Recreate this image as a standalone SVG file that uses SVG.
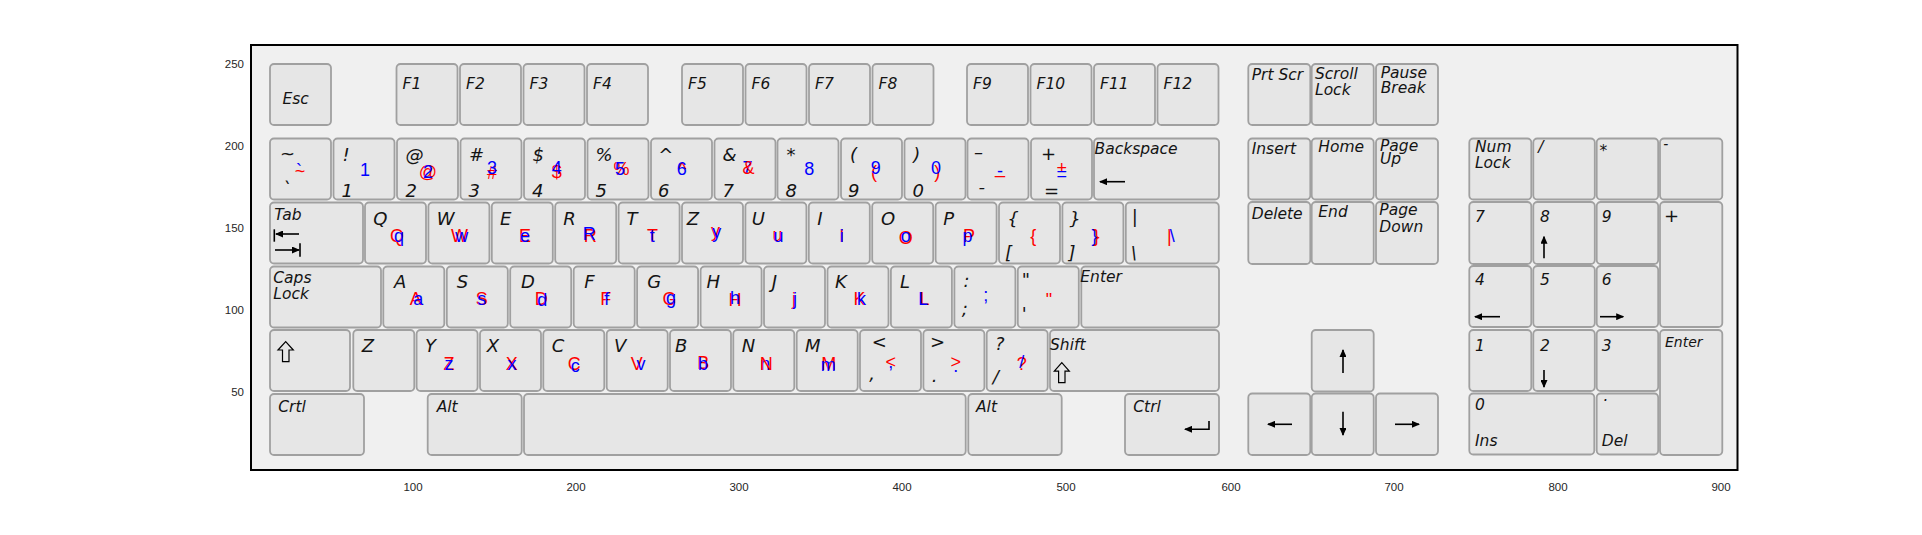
<svg xmlns="http://www.w3.org/2000/svg" width="1922" height="535" viewBox="0 0 1922 535">
<defs>
<style>
.k{fill:#e6e6e6;stroke:#a0a0a0;stroke-width:1.8}
.t{font-family:"DejaVu Sans","Liberation Sans",sans-serif;font-style:italic;fill:#141414;font-size:15.5px}
.L{font-size:18px}
.S{font-size:14px}
.r,.b{font-family:"Liberation Sans",Arial,sans-serif;font-size:18px;text-anchor:middle}
.r{fill:#ff0000}
.b{fill:#0000ff}
.ax{font-family:"Liberation Sans",Arial,sans-serif;font-size:11.5px;fill:#262626}
.ar{stroke:#000;stroke-width:1.6;fill:none;marker-end:url(#ah)}
.ln{stroke:#000;stroke-width:1.6;fill:none}
.hs{fill:none;stroke:#000;stroke-width:1.2}
</style>
<marker id="ah" markerUnits="userSpaceOnUse" viewBox="0 0 8 7" markerWidth="8" markerHeight="7" refX="7" refY="3.5" orient="auto"><path d="M0,0L8,3.5L0,7z" fill="#000"/></marker>
</defs>
<rect width="1922" height="535" fill="#fff"/>
<g id="axes">
<rect x="251" y="45" width="1486.5" height="425" fill="#f0f0f0" stroke="#000" stroke-width="2"/>
<g class="ax" text-anchor="end">
<text x="244" y="67.7">250</text><text x="244" y="150">200</text><text x="244" y="232">150</text><text x="244" y="314">100</text><text x="244" y="396.3">50</text>
</g>
<g class="ax" text-anchor="middle">
<text x="413" y="490.5">100</text><text x="576" y="490.5">200</text><text x="739" y="490.5">300</text><text x="902" y="490.5">400</text><text x="1066" y="490.5">500</text><text x="1231" y="490.5">600</text><text x="1394" y="490.5">700</text><text x="1558" y="490.5">800</text><text x="1721" y="490.5">900</text>
</g>
</g>

<!-- Function row -->
<g id="key-esc" transform="translate(270,64)"><rect class="k" width="61" height="61" rx="4"/><text class="t" x="12.5" y="39.5">Esc</text></g>
<g id="key-f1" transform="translate(396.5,64)"><rect class="k" width="61" height="61" rx="4"/><text class="t" x="6" y="25">F1</text></g>
<g id="key-f2" transform="translate(460,64)"><rect class="k" width="61" height="61" rx="4"/><text class="t" x="6" y="25">F2</text></g>
<g id="key-f3" transform="translate(523.5,64)"><rect class="k" width="61" height="61" rx="4"/><text class="t" x="6" y="25">F3</text></g>
<g id="key-f4" transform="translate(587,64)"><rect class="k" width="61" height="61" rx="4"/><text class="t" x="6" y="25">F4</text></g>
<g id="key-f5" transform="translate(682,64)"><rect class="k" width="61" height="61" rx="4"/><text class="t" x="6" y="25">F5</text></g>
<g id="key-f6" transform="translate(745.5,64)"><rect class="k" width="61" height="61" rx="4"/><text class="t" x="6" y="25">F6</text></g>
<g id="key-f7" transform="translate(809,64)"><rect class="k" width="61" height="61" rx="4"/><text class="t" x="6" y="25">F7</text></g>
<g id="key-f8" transform="translate(872.5,64)"><rect class="k" width="61" height="61" rx="4"/><text class="t" x="6" y="25">F8</text></g>
<g id="key-f9" transform="translate(967,64)"><rect class="k" width="61" height="61" rx="4"/><text class="t" x="6" y="25">F9</text></g>
<g id="key-f10" transform="translate(1030.5,64)"><rect class="k" width="61" height="61" rx="4"/><text class="t" x="6" y="25">F10</text></g>
<g id="key-f11" transform="translate(1094,64)"><rect class="k" width="61" height="61" rx="4"/><text class="t" x="6" y="25">F11</text></g>
<g id="key-f12" transform="translate(1157.5,64)"><rect class="k" width="61" height="61" rx="4"/><text class="t" x="6" y="25">F12</text></g>

<!-- Number row -->
<g id="key-grave" transform="translate(270,138.5)"><rect class="k" width="61" height="61" rx="4"/><text class="t L" x="10" y="21">~</text><text class="t L" x="12" y="56">`</text><text class="r" x="30" y="38.5">~</text><text class="b" x="29" y="38.5">`</text></g>
<g id="key-1" transform="translate(333.5,138.5)"><rect class="k" width="61" height="61" rx="4"/><text class="t L" x="9" y="22">!</text><text class="t L" x="8" y="58">1</text><text class="b" x="31.5" y="37.5">1</text></g>
<g id="key-2" transform="translate(397,138.5)"><rect class="k" width="61" height="61" rx="4"/><text class="t L" x="8.5" y="22">@</text><text class="t L" x="8.5" y="58">2</text><text class="r" x="31" y="39.5">@</text><text class="b" x="31" y="39">2</text></g>
<g id="key-3" transform="translate(460.5,138.5)"><rect class="k" width="61" height="61" rx="4"/><text class="t L" x="8.5" y="22">#</text><text class="t L" x="8" y="58">3</text><text class="r" x="31.5" y="40">#</text><text class="b" x="31.5" y="35">3</text></g>
<g id="key-4" transform="translate(524,138.5)"><rect class="k" width="61" height="61" rx="4"/><text class="t L" x="8.5" y="22">$</text><text class="t L" x="8" y="58">4</text><text class="r" x="32.7" y="39.5">$</text><text class="b" x="32.7" y="35">4</text></g>
<g id="key-5" transform="translate(587.5,138.5)"><rect class="k" width="61" height="61" rx="4"/><text class="t L" x="8" y="22">%</text><text class="t L" x="8" y="58">5</text><text class="r" x="34" y="36.5">%</text><text class="b" x="32.5" y="36">5</text></g>
<g id="key-6" transform="translate(651,138.5)"><rect class="k" width="61" height="61" rx="4"/><text class="t L" x="7.3" y="22">^</text><text class="t L" x="7" y="58">6</text><text class="r" x="31.3" y="36">^</text><text class="b" x="30.7" y="36.5">6</text></g>
<g id="key-7" transform="translate(714.5,138.5)"><rect class="k" width="61" height="61" rx="4"/><text class="t L" x="8" y="22">&amp;</text><text class="t L" x="8" y="58">7</text><text class="b" x="33" y="35">7</text><text class="r" x="34" y="35">&amp;</text></g>
<g id="key-8" transform="translate(777.5,138.5)"><rect class="k" width="61" height="61" rx="4"/><text class="t L" x="9" y="22">*</text><text class="t L" x="8" y="58">8</text><text class="b" x="31.8" y="36.5">8</text></g>
<g id="key-9" transform="translate(841,138.5)"><rect class="k" width="61" height="61" rx="4"/><text class="t L" x="9" y="22">(</text><text class="t L" x="7" y="58">9</text><text class="r" x="33" y="39.5">(</text><text class="b" x="34.7" y="35.5">9</text></g>
<g id="key-0" transform="translate(904.5,138.5)"><rect class="k" width="61" height="61" rx="4"/><text class="t L" x="8.8" y="22">)</text><text class="t L" x="8" y="58">0</text><text class="r" x="32.8" y="39.5">)</text><text class="b" x="31.5" y="35.5">0</text></g>
<g id="key-minus" transform="translate(967.5,138.5)"><rect class="k" width="61" height="61" rx="4"/><text class="t L" x="6.5" y="19">–</text><text class="t L" x="11" y="54">-</text><text class="r" x="32.5" y="34">_</text><text class="b" x="32.5" y="38.5">-</text></g>
<g id="key-equal" transform="translate(1031,138.5)"><rect class="k" width="61" height="61" rx="4"/><text class="t L" x="10" y="21.5">+</text><text class="t L" x="13" y="58">=</text><text class="r" x="30.7" y="35.5">+</text><text class="b" x="30.7" y="41.5">=</text></g>
<g id="key-backspace" transform="translate(1094,138.5)"><rect class="k" width="125" height="61" rx="4"/><text class="t" x="0.5" y="15">Backspace</text><line class="ar" x1="31" y1="43.2" x2="6" y2="43.2"/></g>

<!-- Tab row -->
<g id="key-tab" transform="translate(270,202.5)"><rect class="k" width="93" height="61" rx="4"/><text class="t" x="4.3" y="17.5">Tab</text><line class="ln" x1="4.3" y1="26.8" x2="4.3" y2="39.2"/><line class="ar" x1="29" y1="31.5" x2="6" y2="31.5"/><line class="ar" x1="5" y1="47.5" x2="29" y2="47.5"/><line class="ln" x1="30" y1="40.8" x2="30" y2="54.2"/></g>
<g id="key-q" transform="translate(365,202.5)"><rect class="k" width="61" height="61" rx="4"/><text class="t L" x="8.3" y="22.5">Q</text><text class="r" x="32" y="39">Q</text><text class="b" x="34" y="39">q</text></g>
<g id="key-w" transform="translate(428.4,202.5)"><rect class="k" width="61" height="61" rx="4"/><text class="t L" x="8.3" y="22.5">W</text><text class="r" x="31" y="39">W</text><text class="b" x="33.3" y="39">w</text></g>
<g id="key-e" transform="translate(491.8,202.5)"><rect class="k" width="61" height="61" rx="4"/><text class="t L" x="8.2" y="22.5">E</text><text class="r" x="33.3" y="39">E</text><text class="b" x="33.3" y="39">e</text></g>
<g id="key-r" transform="translate(555.2,202.5)"><rect class="k" width="61" height="61" rx="4"/><text class="t L" x="8.1" y="22.5">R</text><text class="r" x="35" y="39">R</text><text class="b" x="34" y="37">R</text></g>
<g id="key-t" transform="translate(618.6,202.5)"><rect class="k" width="61" height="61" rx="4"/><text class="t L" x="8" y="22.5">T</text><text class="r" x="34" y="39">T</text><text class="b" x="33.7" y="39">t</text></g>
<g id="key-y" transform="translate(682,202.5)"><rect class="k" width="61" height="61" rx="4"/><text class="t L" x="4.7" y="22.5">Z</text><text class="r" x="33.5" y="34">y</text><text class="b" x="34.7" y="35.5">y</text></g>
<g id="key-u" transform="translate(745.4,202.5)"><rect class="k" width="61" height="61" rx="4"/><text class="t L" x="6.3" y="22.5">U</text><text class="r" x="32" y="38.5">u</text><text class="b" x="33" y="39">u</text></g>
<g id="key-i" transform="translate(808.8,202.5)"><rect class="k" width="61" height="61" rx="4"/><text class="t L" x="8.5" y="22.5">I</text><text class="r" x="33" y="39">I</text><text class="b" x="33" y="39">i</text></g>
<g id="key-o" transform="translate(872.2,202.5)"><rect class="k" width="61" height="61" rx="4"/><text class="t L" x="8.8" y="22.5">O</text><text class="r" x="33.5" y="41">O</text><text class="b" x="33.5" y="39">o</text></g>
<g id="key-p" transform="translate(935.6,202.5)"><rect class="k" width="61" height="61" rx="4"/><text class="t L" x="7.7" y="22.5">P</text><text class="r" x="33.5" y="39">P</text><text class="b" x="32" y="39">p</text></g>
<g id="key-lbracket" transform="translate(999,202.5)"><rect class="k" width="61" height="61" rx="4"/><text class="t L" x="8.3" y="22.5">{</text><text class="t L" x="6" y="56">[</text><text class="r" x="34.3" y="39">{</text></g>
<g id="key-rbracket" transform="translate(1062.4,202.5)"><rect class="k" width="61" height="61" rx="4"/><text class="t L" x="7" y="22.5">}</text><text class="t L" x="6" y="56">]</text><text class="b" x="32" y="39">}</text><text class="r" x="34" y="39">}</text></g>
<g id="key-backslash" transform="translate(1125.8,202.5)"><rect class="k" width="93" height="61" rx="4"/><text class="t L" x="6" y="20">|</text><text class="t L" x="5" y="56">\</text><text class="r" x="43.5" y="39">|</text><text class="b" x="46.5" y="39">\</text></g>

<!-- Caps row -->
<g id="key-caps" transform="translate(270,266.5)"><rect class="k" width="111" height="61" rx="4"/><text class="t" x="3.3" y="16.7">Caps</text><text class="t" x="3.3" y="32.7">Lock</text></g>
<g id="key-a" transform="translate(383.3,266.5)"><rect class="k" width="61" height="61" rx="4"/><text class="t L" x="10.7" y="21.2">A</text><text class="r" x="32.4" y="38.5">A</text><text class="b" x="35" y="38.5">a</text></g>
<g id="key-s" transform="translate(446.8,266.5)"><rect class="k" width="61" height="61" rx="4"/><text class="t L" x="9.9" y="21.2">S</text><text class="r" x="35" y="38">S</text><text class="b" x="35" y="38.5">s</text></g>
<g id="key-d" transform="translate(510.2,266.5)"><rect class="k" width="61" height="61" rx="4"/><text class="t L" x="10.8" y="21.2">D</text><text class="r" x="31" y="38.5">D</text><text class="b" x="32" y="39.5">d</text></g>
<g id="key-f" transform="translate(573.7,266.5)"><rect class="k" width="61" height="61" rx="4"/><text class="t L" x="10.6" y="21.2">F</text><text class="r" x="32" y="38.5">F</text><text class="b" x="33" y="38.5">f</text></g>
<g id="key-g" transform="translate(637.1,266.5)"><rect class="k" width="61" height="61" rx="4"/><text class="t L" x="10.2" y="21.2">G</text><text class="r" x="32.5" y="38.5">G</text><text class="b" x="34" y="37">g</text></g>
<g id="key-h" transform="translate(700.6,266.5)"><rect class="k" width="61" height="61" rx="4"/><text class="t L" x="6" y="21.2">H</text><text class="r" x="34.4" y="39.5">H</text><text class="b" x="34.4" y="37.5">h</text></g>
<g id="key-j" transform="translate(764,266.5)"><rect class="k" width="61" height="61" rx="4"/><text class="t L" x="7.7" y="21.2">J</text><text class="r" x="30" y="38.5">j</text><text class="b" x="31" y="38.5">j</text></g>
<g id="key-k" transform="translate(827.5,266.5)"><rect class="k" width="61" height="61" rx="4"/><text class="t L" x="7.5" y="21.2">K</text><text class="r" x="32" y="38.5">K</text><text class="b" x="34" y="38.5">k</text></g>
<g id="key-l" transform="translate(890.9,266.5)"><rect class="k" width="61" height="61" rx="4"/><text class="t L" x="9" y="21.2">L</text><text class="r" x="33.5" y="38.5">L</text><text class="b" x="32.4" y="38">L</text></g>
<g id="key-semicolon" transform="translate(954.4,266.5)"><rect class="k" width="61" height="61" rx="4"/><text class="t L" x="9" y="20">:</text><text class="t L" x="7.3" y="48">;</text><text class="b" x="31.3" y="34">;</text></g>
<g id="key-quote" transform="translate(1017.8,266.5)"><rect class="k" width="61" height="61" rx="4"/><text class="t L" x="4" y="19.5">"</text><text class="t L" x="4" y="53">'</text><text class="r" x="31.2" y="39">"</text></g>
<g id="key-enter" transform="translate(1081.3,266.5)"><rect class="k" width="137.7" height="61" rx="4"/><text class="t" x="-1" y="15.2">Enter</text></g>

<!-- Shift row -->
<g id="key-lshift" transform="translate(270,330)"><rect class="k" width="80" height="61" rx="4"/><polygon class="hs" points="15.7,11.7 23.3,20 19,20 19,31.7 12.5,31.7 12.5,20 8,20"/></g>
<g id="key-z" transform="translate(353.3,330)"><rect class="k" width="61" height="61" rx="4"/><text class="t L" x="8.4" y="21.7">Z</text></g>
<g id="key-yy" transform="translate(416.6,330)"><rect class="k" width="61" height="61" rx="4"/><text class="t L" x="8.4" y="21.7">Y</text><text class="r" x="32.4" y="40">Z</text><text class="b" x="32.4" y="40">z</text></g>
<g id="key-x" transform="translate(480,330)"><rect class="k" width="61" height="61" rx="4"/><text class="t L" x="6.7" y="21.7">X</text><text class="r" x="31.7" y="40">X</text><text class="b" x="32" y="40">x</text></g>
<g id="key-c" transform="translate(543.3,330)"><rect class="k" width="61" height="61" rx="4"/><text class="t L" x="8.4" y="21.7">C</text><text class="r" x="31" y="40">C</text><text class="b" x="32" y="42">c</text></g>
<g id="key-v" transform="translate(606.7,330)"><rect class="k" width="61" height="61" rx="4"/><text class="t L" x="7.3" y="21.7">V</text><text class="r" x="30" y="40">V</text><text class="b" x="34.3" y="40">v</text></g>
<g id="key-b" transform="translate(670,330)"><rect class="k" width="61" height="61" rx="4"/><text class="t L" x="5" y="21.7">B</text><text class="r" x="33.3" y="39">B</text><text class="b" x="33" y="40">b</text></g>
<g id="key-n" transform="translate(733.3,330)"><rect class="k" width="61" height="61" rx="4"/><text class="t L" x="8.4" y="21.7">N</text><text class="b" x="32" y="40">n</text><text class="r" x="33" y="40">N</text></g>
<g id="key-m" transform="translate(796.7,330)"><rect class="k" width="61" height="61" rx="4"/><text class="t L" x="8.3" y="21.7">M</text><text class="r" x="32" y="40">M</text><text class="b" x="31.6" y="40.5">m</text></g>
<g id="key-comma" transform="translate(860,330)"><rect class="k" width="61" height="61" rx="4"/><text class="t L" x="11.7" y="18">&lt;</text><text class="t L" x="9.3" y="50">,</text><text class="r" x="30.7" y="38">&lt;</text><text class="b" x="30.7" y="38">,</text></g>
<g id="key-period" transform="translate(923.4,330)"><rect class="k" width="61" height="61" rx="4"/><text class="t L" x="6.6" y="18">&gt;</text><text class="t L" x="8.3" y="52">.</text><text class="r" x="32.3" y="38">&gt;</text><text class="b" x="32.3" y="42">.</text></g>
<g id="key-slash" transform="translate(986.7,330)"><rect class="k" width="61" height="61" rx="4"/><text class="t L" x="8.3" y="20">?</text><text class="t L" x="6" y="53">/</text><text class="r" x="35" y="40">?</text><text class="b" x="35" y="38">/</text></g>
<g id="key-rshift" transform="translate(1050,330)"><rect class="k" width="169" height="61" rx="4"/><text class="t" x="0" y="20">Shift</text><polygon class="hs" points="11.8,32.7 19.3,41.2 15,41.2 15,52.7 8.6,52.7 8.6,41.2 4.3,41.2"/></g>

<!-- Bottom row -->
<g id="key-lctrl" transform="translate(270,394)"><rect class="k" width="94" height="61" rx="4"/><text class="t" x="8.3" y="17.7">Crtl</text></g>
<g id="key-lalt" transform="translate(427.7,394)"><rect class="k" width="94" height="61" rx="4"/><text class="t" x="9" y="17.7">Alt</text></g>
<g id="key-space" transform="translate(524,394)"><rect class="k" width="441.7" height="61" rx="4"/></g>
<g id="key-ralt" transform="translate(968.3,394)"><rect class="k" width="93.4" height="61" rx="4"/><text class="t" x="7.7" y="17.7">Alt</text></g>
<g id="key-rctrl" transform="translate(1125,394)"><rect class="k" width="94" height="61" rx="4"/><text class="t" x="8.3" y="17.7">Ctrl</text><polyline class="ar" points="84,27 84,35.3 60,35.3"/></g>

<!-- Navigation cluster -->
<g id="key-prtscr" transform="translate(1248.3,64)"><rect class="k" width="62" height="61" rx="4"/><text class="t" x="3.4" y="16">Prt Scr</text></g>
<g id="key-scroll" transform="translate(1311.7,64)"><rect class="k" width="62" height="61" rx="4"/><text class="t" x="3.3" y="15.3">Scroll</text><text class="t" x="3.3" y="31">Lock</text></g>
<g id="key-pause" transform="translate(1376,64)"><rect class="k" width="62" height="61" rx="4"/><text class="t" x="4.7" y="13.7">Pause</text><text class="t" x="4.7" y="29.3">Break</text></g>
<g id="key-insert" transform="translate(1248.3,138.5)"><rect class="k" width="62" height="61" rx="4"/><text class="t" x="3.4" y="15">Insert</text></g>
<g id="key-home" transform="translate(1311.7,138.5)"><rect class="k" width="62" height="61" rx="4"/><text class="t" x="6.6" y="13">Home</text></g>
<g id="key-pgup" transform="translate(1376,138.5)"><rect class="k" width="62" height="61" rx="4"/><text class="t" x="4" y="12.5">Page</text><text class="t" x="4" y="25.5">Up</text></g>
<g id="key-delete" transform="translate(1248.3,202)"><rect class="k" width="62" height="62" rx="4"/><text class="t" x="3.4" y="17">Delete</text></g>
<g id="key-end" transform="translate(1311.7,202)"><rect class="k" width="62" height="62" rx="4"/><text class="t" x="6.6" y="14.7">End</text></g>
<g id="key-pgdn" transform="translate(1376,202)"><rect class="k" width="62" height="62" rx="4"/><text class="t" x="3.3" y="13">Page</text><text class="t" x="3.3" y="29.7">Down</text></g>
<g id="key-up" transform="translate(1311.7,330)"><rect class="k" width="62" height="61.5" rx="4"/><line class="ar" x1="31.3" y1="43" x2="31.3" y2="20"/></g>
<g id="key-left" transform="translate(1248.3,393.5)"><rect class="k" width="62" height="61.5" rx="4"/><line class="ar" x1="43.7" y1="30.8" x2="19.7" y2="30.8"/></g>
<g id="key-down" transform="translate(1311.7,393.5)"><rect class="k" width="62" height="61.5" rx="4"/><line class="ar" x1="31.3" y1="18.2" x2="31.3" y2="41.5"/></g>
<g id="key-right" transform="translate(1376,393.5)"><rect class="k" width="62" height="61.5" rx="4"/><line class="ar" x1="19" y1="30.8" x2="43" y2="30.8"/></g>

<!-- Numeric keypad -->
<g id="key-numlock" transform="translate(1469.3,138.5)"><rect class="k" width="62" height="61" rx="4"/><text class="t" x="5.7" y="13">Num</text><text class="t" x="5.7" y="29.5">Lock</text></g>
<g id="key-kpdiv" transform="translate(1533.3,138.5)"><rect class="k" width="61.5" height="61" rx="4"/><text class="t" x="5" y="13">/</text></g>
<g id="key-kpmul" transform="translate(1596.7,138.5)"><rect class="k" width="61.5" height="61" rx="4"/><text class="t" x="2.7" y="17">*</text></g>
<g id="key-kpsub" transform="translate(1660,138.5)"><rect class="k" width="62.3" height="61" rx="4"/><text class="t S" x="3.3" y="10">-</text></g>
<g id="key-kp7" transform="translate(1469.3,202)"><rect class="k" width="62" height="62" rx="4"/><text class="t" x="5.7" y="19.7">7</text></g>
<g id="key-kp8" transform="translate(1533.3,202)"><rect class="k" width="61.5" height="62" rx="4"/><text class="t" x="6.7" y="19.7">8</text><line class="ar" x1="10.7" y1="56.3" x2="10.7" y2="34.7"/></g>
<g id="key-kp9" transform="translate(1596.7,202)"><rect class="k" width="61.5" height="62" rx="4"/><text class="t" x="5" y="19.7">9</text></g>
<g id="key-kpadd" transform="translate(1660,202)"><rect class="k" width="62.3" height="125" rx="4"/><text class="t L" x="4" y="20">+</text></g>
<g id="key-kp4" transform="translate(1469.3,266)"><rect class="k" width="62" height="61" rx="4"/><text class="t" x="5.7" y="19">4</text><line class="ar" x1="30.7" y1="50.7" x2="5.7" y2="50.7"/></g>
<g id="key-kp5" transform="translate(1533.3,266)"><rect class="k" width="61.5" height="61" rx="4"/><text class="t" x="6.7" y="19">5</text></g>
<g id="key-kp6" transform="translate(1596.7,266)"><rect class="k" width="61.5" height="61" rx="4"/><text class="t" x="5" y="19">6</text><line class="ar" x1="3.3" y1="50.7" x2="26.5" y2="50.7"/></g>
<g id="key-kp1" transform="translate(1469.3,330)"><rect class="k" width="62" height="61" rx="4"/><text class="t" x="5.7" y="21">1</text></g>
<g id="key-kp2" transform="translate(1533.3,330)"><rect class="k" width="61.5" height="61" rx="4"/><text class="t" x="6.7" y="21">2</text><line class="ar" x1="10.7" y1="40" x2="10.7" y2="57"/></g>
<g id="key-kp3" transform="translate(1596.7,330)"><rect class="k" width="61.5" height="61" rx="4"/><text class="t" x="5" y="21">3</text></g>
<g id="key-kpenter" transform="translate(1660,330)"><rect class="k" width="62.3" height="125" rx="4"/><text class="t S" x="5" y="16.7">Enter</text></g>
<g id="key-kp0" transform="translate(1469.3,393.5)"><rect class="k" width="125" height="61" rx="4"/><text class="t" x="5.7" y="16.5">0</text><text class="t" x="5.7" y="52.5">Ins</text></g>
<g id="key-kpdel" transform="translate(1596.7,393.5)"><rect class="k" width="61.5" height="61" rx="4"/><text class="t" x="6.7" y="7">.</text><text class="t" x="5" y="52.5">Del</text></g>
</svg>
